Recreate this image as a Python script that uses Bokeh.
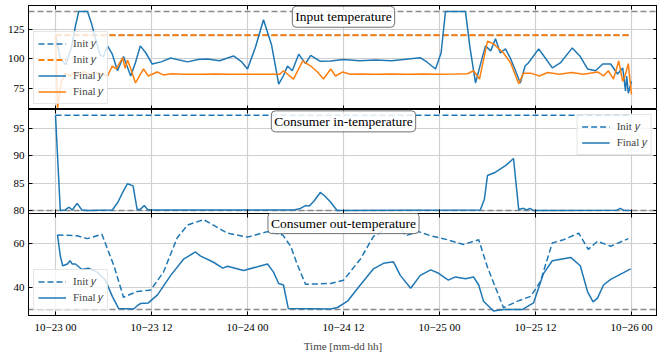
from bokeh.plotting import figure
from bokeh.layouts import column
from bokeh.models import FixedTicker, LinearAxis, Label, Legend, LegendItem, Range1d
from bokeh.embed import file_html
from bokeh.resources import INLINE

BLUE = "#1f77b4"
ORANGE = "#ff7f0e"
GREY = "#8a8a8a"
GRID = "#cfcfcf"
FONT = "Liberation Serif"

# ---- time axis (hours after 10-23 00) ----
tick_hours = [0, 12, 24, 36, 48, 60, 72]
tick_labels = ["10−23 00", "10−23 12", "10−24 00", "10−24 12",
               "10−25 00", "10−25 12", "10−26 00"]
X_START, X_END = -3.375, 75.25

# ---- Input temperature ----
inp_init_t = [0, 72]
inp_init_y = [120, 120]
inp_upper = 140
inp_final_blue_t = [0, 0.6, 1.3, 2.0, 2.5, 2.9, 4.0, 4.5, 5.0, 5.6, 6.0, 6.5, 7.1, 7.75,
                    8.5, 9.4, 10.0, 10.6, 11.3, 12.1, 13.2, 14.4, 15.5, 16.5, 17.8, 19.0,
                    20.5, 22.25, 23.2, 24.0, 25.0, 26.0, 27.0, 27.9, 28.5, 29.0, 29.6,
                    30.4, 31.25, 31.9, 33.1, 34.4, 36, 38, 40, 42, 43.5, 45.6, 46.5, 47.5,
                    48.2, 48.75, 51.25, 51.8, 52.5, 53.1, 53.75, 54.4, 55, 55.6, 56.25,
                    56.9, 57.5, 58.1, 58.7, 59.1, 60.4, 61.2, 62.1, 63.1, 64.6, 65.6, 66.5,
                    67.5, 68.4, 69.4, 70.25, 70.9, 71.25, 71.4, 71.6, 72]
inp_final_blue_y = [120, 100, 95, 110, 128, 140, 140, 130, 117, 103, 102, 111, 104, 90,
                    102, 85.6, 97, 111, 105, 95.7, 97.5, 100.8, 99, 97.5, 99.5, 100,
                    98.5, 102.5, 98, 91.5, 110, 133, 112, 78.8, 86, 94, 90,
                    104, 96, 103, 98, 98.3, 99.5, 98.5, 99, 98.5, 99.5, 101, 97, 91.5,
                    105, 140, 140, 110, 79.7, 95, 111, 106.8, 117, 105, 108.5,
                    100, 90, 79.7, 94, 96.6, 108.5, 101, 92.4, 96.6, 109.3, 102, 91.5,
                    90, 95.7, 95.7, 87.3, 92.4, 72.9, 85.6, 71, 81]
inp_final_orange_t = [0, 0.25, 0.7, 1.2, 1.8, 2.4, 3.0, 3.6, 4.3, 5.0, 5.7, 6.5, 7.1, 7.6,
                      8.4, 8.7, 9.0, 9.4, 10.0, 11.0, 11.6, 12.7, 13.5, 14.5, 16, 18, 20,
                      22, 24, 26, 28.0, 28.5, 29.75, 30.9, 31.9, 32.75, 33.5, 34.4, 35,
                      35.9, 36.8, 38, 40, 42, 44, 46, 48, 50, 51.5, 52.25, 53, 54, 54.75,
                      56, 56.9, 57.9, 58.5, 59.4, 60.5, 61.5, 63, 64.5, 66, 67.75, 68.5,
                      69.1, 69.75, 70.4, 70.9, 71.25, 71.6, 72]
inp_final_orange_y = [120, 58.5, 80, 88, 85.5, 89, 86, 89.5, 86.5, 89, 87, 85.6, 94, 91.5,
                      101, 92, 99, 92, 79.7, 91.5, 85.6, 89, 86.5, 87.5, 87, 87, 87.2,
                      87, 87, 87, 87, 90, 83, 98.3, 94, 89, 83, 91.5, 85.6,
                      89, 87, 87.3, 87, 87.2, 87, 87.3, 87, 87.2, 87.5, 90, 83, 115, 112.7,
                      105, 96.6, 79, 88, 88, 85.6, 88.5, 87, 88.5, 87, 89, 85.6,
                      90, 83, 98.3, 81, 87, 96, 70]

# ---- Consumer in-temperature ----
cin_lower = 80
cin_init_t = [0, 72]
cin_init_y = [97.4, 97.4]
cin_final_t = [0, 0.6, 1.2, 1.7, 2.1, 2.7, 3.3, 4, 7.1, 7.8, 8.4, 9.0, 9.7, 10.2, 10.6,
               11.1, 11.5, 12, 29.8, 30.5, 31.25, 31.7, 32.3, 33.1, 33.7, 34.4, 35.2,
               53.1, 53.6, 54, 55, 56.25, 57.25, 57.9, 58.5, 58.9, 59.3, 59.7, 70.2,
               70.6, 71, 72]
cin_final_y = [97.4, 80, 80.1, 80.6, 80.1, 81.3, 80.1, 80, 80.1, 81.5, 83.3, 84.9, 84.5,
               80.2, 80.2, 80.9, 80.2, 80.1, 80.1, 80.3, 80.9, 80.8, 81.7, 83.3, 82.6,
               81.5, 80, 80.1, 82, 86.4, 87, 88.2, 89.5, 80.2, 80.4, 80.1, 80.4, 80,
               80.05, 80.4, 80.05, 80]

# ---- Consumer out-temperature ----
cout_lower = 30
cout_init_t = [0.25, 2.7, 4, 5.8, 7.3, 8.5, 10.2, 11.9, 13.5, 15.2, 16.5, 18.5, 21.5, 24,
               26.5, 28.4, 29.4, 30.2, 31.25, 34.4, 36, 38.1, 39.75, 41.5, 43.1, 43.75,
               45.4, 46.9, 49, 51, 52.9, 54, 56, 57.75, 59.4, 60.6, 62.1, 63.5, 65.4,
               66.6, 67.75, 69.4, 71.6]
cout_init_y = [64.1, 63.7, 62.4, 64.4, 50, 35.6, 38.2, 38.9, 47.1, 62.7, 68.6, 71.1, 64.9,
               63.1, 65.6, 64.1, 58.9, 50.8, 41.5, 41.9, 43.4, 53, 63.4, 67.1, 67.8, 63.7,
               65.6, 63.7, 61.9, 59.7, 61.9, 49.3, 30.8, 33.8, 36, 42.7, 60.4, 61.9, 64.9,
               57.5, 61.2, 58.9, 62.4]
cout_final_t = [0.25, 0.6, 0.9, 1.5, 1.8, 2.1, 2.5, 3.3, 4.1, 5.2, 6.25, 7.1, 7.9, 9.75,
                10.2, 10.6, 11.6, 12.75, 14.4, 16, 17.5, 18.1, 19.75, 20.9, 21.5, 23.5,
                26.5, 27.25, 27.9, 28.5, 29.1, 34.4, 35.25, 36.5, 38.1, 39.75, 41, 42.25,
                43.1, 44.4, 45.6, 46.9, 47.75, 49.1, 50, 51.25, 52.25, 52.9, 53.5, 54.75,
                56, 58.4, 59.75, 61, 62.1, 64.4, 65.6, 66.5, 67.2, 67.75, 68.5, 69.4,
                71.9]
cout_final_y = [64.1, 54.5, 50, 50.8, 52.3, 50.8, 50.8, 48.3, 48.9, 47.1, 43.4, 36, 30.4,
                30.2, 31.6, 32.7, 33, 36.7, 45.6, 53, 56.3, 54.5, 51.6, 48.9, 49.8, 47.8,
                50.8, 47.1, 41.9, 41.2, 30.4, 30.2, 30.9, 33.8, 41.2, 48.6, 51.1, 51.8,
                45.6, 39.7, 45.6, 48.1, 46.8, 43.4, 44.9, 44.1, 44.9, 41.2, 33.8, 29.3,
                30, 30, 33, 46.4, 52.3, 53.8, 50, 38.2, 33.5, 35.2, 41.2, 43.8,
                48.6]

x_range = Range1d(X_START, X_END)


def style_axis(ax, ticks, labelled):
    ax.ticker = FixedTicker(ticks=ticks)
    ax.major_tick_in = 4
    ax.major_tick_out = 0
    ax.minor_tick_in = 0
    ax.minor_tick_out = 0
    ax.axis_line_color = "black"
    ax.major_tick_line_color = "black"
    ax.major_label_text_font = FONT
    if labelled:
        ax.major_label_text_color = "black"
        ax.major_label_text_font_size = "11px"
        ax.major_label_standoff = 5
    else:
        # tick marks only, no labels
        ax.major_label_text_color = None
        ax.major_label_text_alpha = 0
        ax.major_label_text_font_size = "0px"
        ax.major_label_standoff = 0


def make_panel(height, y0, y1, yticks, border_top, border_bottom, x_labels):
    p = figure(width=657, height=height, x_range=x_range, y_range=Range1d(y0, y1),
               output_backend="svg", toolbar_location=None,
               min_border_left=28, min_border_right=0,
               min_border_top=border_top, min_border_bottom=border_bottom)
    p.outline_line_color = "black"
    p.outline_line_width = 1
    p.background_fill_color = "white"
    p.border_fill_color = "white"

    bottom_ax = p.below[0]
    style_axis(bottom_ax, tick_hours, x_labels)
    if x_labels:
        bottom_ax.major_label_overrides = {h: s for h, s in zip(tick_hours, tick_labels)}
    top_ax = LinearAxis()
    style_axis(top_ax, tick_hours, False)
    p.add_layout(top_ax, "above")

    left_ax = p.left[0]
    style_axis(left_ax, yticks, True)
    left_ax.major_label_standoff = 4
    right_ax = LinearAxis()
    style_axis(right_ax, yticks, False)
    p.add_layout(right_ax, "right")

    p.xgrid.ticker = FixedTicker(ticks=tick_hours)
    p.ygrid.ticker = FixedTicker(ticks=yticks)
    p.xgrid.grid_line_color = GRID
    p.ygrid.grid_line_color = GRID
    p.xgrid.grid_line_width = 1.2
    p.ygrid.grid_line_width = 1.2
    return p, bottom_ax


def add_title(p, y, text):
    p.add_layout(Label(x=36, y=y, text=text, text_align="center", text_baseline="middle",
                       text_font=FONT, text_font_size="13.5px", text_color="black",
                       background_fill_color="white", background_fill_alpha=0.85,
                       border_line_color="#707070", border_line_width=1,
                       border_radius=4, padding=3))


def add_legend(p, items, location):
    leg = Legend(items=items, location=location,
                 label_text_font=FONT, label_text_font_size="11px",
                 glyph_width=28, glyph_height=15, label_height=15,
                 spacing=1, padding=4, margin=5, label_standoff=7,
                 border_line_color="#cccccc", border_line_width=1,
                 background_fill_color="white", background_fill_alpha=0.8)
    p.add_layout(leg)


LW = 1.5
DASH = "6 3"

# Panel 1: input temperature
p1, _ = make_panel(109, 57.3, 145.1, [75, 100, 125], 5, 0, False)
p1.line([X_START, X_END], [inp_upper, inp_upper], line_color=GREY, line_dash=DASH, line_width=LW)
r_ib = p1.line(inp_init_t, inp_init_y, line_color=BLUE, line_dash=DASH, line_width=LW)
r_io = p1.line(inp_init_t, inp_init_y, line_color=ORANGE, line_dash=DASH, line_width=1.9)
r_fb = p1.line(inp_final_blue_t, inp_final_blue_y, line_color=BLUE, line_width=LW)
r_fo = p1.line(inp_final_orange_t, inp_final_orange_y, line_color=ORANGE, line_width=LW)
add_title(p1, 135.6, "Input temperature")
add_legend(p1, [LegendItem(label="Init 𝑦", renderers=[r_ib]),
                LegendItem(label="Init 𝑦", renderers=[r_io]),
                LegendItem(label="Final 𝑦", renderers=[r_fb]),
                LegendItem(label="Final 𝑦", renderers=[r_fo])], "bottom_left")

# Panel 2: consumer in-temperature (3px spare below so the bottom tick label fits)
p2, _ = make_panel(107, 79.45, 98.47, [80, 85, 90, 95], 0, 3, False)
p2.line([X_START, X_END], [cin_lower, cin_lower], line_color=GREY, line_dash=DASH, line_width=LW)
r2i = p2.line(cin_init_t, cin_init_y, line_color=BLUE, line_dash=DASH, line_width=LW)
r2f = p2.line(cin_final_t, cin_final_y, line_color=BLUE, line_width=LW)
add_title(p2, 96.3, "Consumer in-temperature")
add_legend(p2, [LegendItem(label="Init 𝑦", renderers=[r2i]),
                LegendItem(label="Final 𝑦", renderers=[r2f])], "top_right")

# Panel 3: consumer out-temperature, pulled up over the spare strip of panel 2
p3, p3_bottom = make_panel(141, 27.24, 73.9, [40, 60], 0, 36, True)
p3.border_fill_alpha = 0
p3.styles = {"margin-top": "-3px"}
p3_bottom.axis_label = "Time [mm-dd hh]"
p3_bottom.axis_label_text_font = FONT
p3_bottom.axis_label_text_font_size = "11px"
p3_bottom.axis_label_text_font_style = "normal"
p3_bottom.axis_label_standoff = 4
p3.line([X_START, X_END], [cout_lower, cout_lower], line_color=GREY, line_dash=DASH, line_width=LW)
r3i = p3.line(cout_init_t, cout_init_y, line_color=BLUE, line_dash=DASH, line_width=LW)
r3f = p3.line(cout_final_t, cout_final_y, line_color=BLUE, line_width=LW)
add_title(p3, 69.5, "Consumer out-temperature")
add_legend(p3, [LegendItem(label="Init 𝑦", renderers=[r3i]),
                LegendItem(label="Final 𝑦", renderers=[r3f])], "bottom_left")

layout = column(p1, p2, p3, spacing=0)
open("out.html", "w").write(file_html(layout, INLINE))
